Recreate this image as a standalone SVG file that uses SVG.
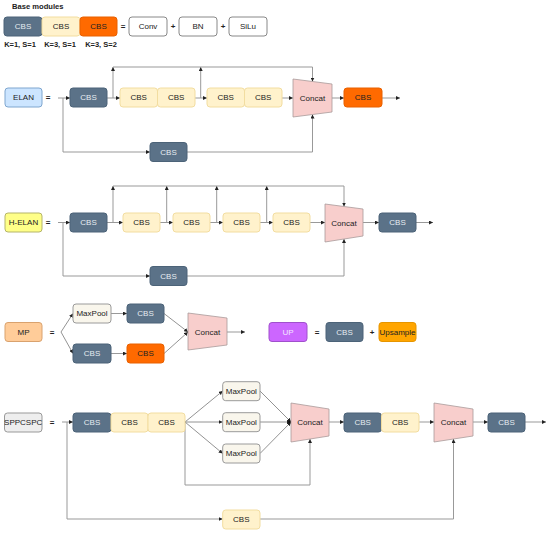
<svg xmlns="http://www.w3.org/2000/svg" width="550" height="533" viewBox="0 0 550 533">
<defs>
<marker id="ah" viewBox="0 0 6 6" refX="6" refY="3" markerWidth="4" markerHeight="4" markerUnits="userSpaceOnUse" orient="auto">
<path d="M0,0 L6,3 L0,6 Z" fill="#222"/>
</marker>
<style>
text{font-family:"Liberation Sans",Arial,sans-serif;font-size:8px;text-anchor:middle;dominant-baseline:central;fill:#222}
.b{font-weight:bold}
.k{font-weight:bold;font-size:7.5px}
.dk rect{fill:#5B7288;stroke:#4C6378}
.dk text{fill:#E6ECF1}
.cr rect{fill:#FFF2CC;stroke:#F2DDA0}
.or rect{fill:#FF6A00;stroke:#E86000}
.wh rect{fill:#fff;stroke:#888}
.mx rect{fill:#F9F6EC;stroke:#9a9a9a}
.cc polygon{fill:#F8CECC;stroke:#A89A9A;stroke-width:0.8}
.ln path{fill:none;stroke:#999;stroke-width:1;marker-end:url(#ah)}
.fw path{fill:none;stroke:#777;stroke-width:0.8;marker-end:url(#ah)}
</style>
</defs>
<rect width="550" height="533" fill="#fff"/>

<!-- Base modules -->
<text x="12" y="6.5" class="b" style="text-anchor:start;font-size:7.6px">Base modules</text>
<g id="base-cbs1" class="dk"><rect x="4" y="17" width="38" height="19" rx="3"/><text x="23" y="26.5">CBS</text></g>
<g id="base-cbs2" class="cr"><rect x="42" y="17" width="38" height="19" rx="3"/><text x="61" y="26.5">CBS</text></g>
<g id="base-cbs3" class="or"><rect x="80" y="17" width="37" height="19" rx="3"/><text x="98.5" y="26.5">CBS</text></g>
<text x="123" y="26.5" class="b">=</text>
<g id="conv" class="wh"><rect x="129" y="17" width="38" height="19" rx="3"/><text x="148" y="26.5">Conv</text></g>
<text x="173" y="26.5" class="b">+</text>
<g id="bn" class="wh"><rect x="179" y="17" width="38" height="19" rx="3"/><text x="198" y="26.5">BN</text></g>
<text x="223" y="26.5" class="b">+</text>
<g id="silu" class="wh"><rect x="229" y="17" width="38" height="19" rx="3"/><text x="248" y="26.5">SiLu</text></g>
<text x="20" y="44" class="k">K=1, S=1</text>
<text x="60" y="44" class="k">K=3, S=1</text>
<text x="101" y="44" class="k">K=3, S=2</text>

<!-- Connectors -->
<g id="connectors">
<g class="ln">
<path d="M58,98 H70"/>
<path d="M107,98 H120"/>
<path d="M195,98 H207"/>
<path d="M282,98 H293"/>
<path d="M332,98 H344"/>
<path d="M382,98 H400"/>
<path d="M113,98 V67"/>
<path d="M200.7,98 V67"/>
<path d="M113,67 H312.5 V81.5"/>
<path d="M63,98 V152 H150"/>
<path d="M187,152 H312.5 V114.5"/>
<path d="M58,222.5 H70"/>
<path d="M107,222.5 H123"/>
<path d="M160,222.5 H173"/>
<path d="M210,222.5 H223"/>
<path d="M260,222.5 H273"/>
<path d="M310,222.5 H325"/>
<path d="M363,222.5 H379"/>
<path d="M416,222.5 H433"/>
<path d="M113,222.5 V186"/>
<path d="M166.7,222.5 V186"/>
<path d="M216.7,222.5 V186"/>
<path d="M266.7,222.5 V186"/>
<path d="M113,186 H344 V206.5"/>
<path d="M63,222.5 V276 H150"/>
<path d="M187,276 H344 V239"/>
<path d="M111,313.5 H127"/>
<path d="M111,353.5 H127"/>
<path d="M227,332 H245"/>
<path d="M62,422 H73"/>
<path d="M329,422 H344"/>
<path d="M419,422 H434"/>
<path d="M473,422 H488"/>
<path d="M525,422 H546"/>
<path d="M185,422 V485 H310 V439"/>
<path d="M67,422 V519 H222.7"/>
<path d="M260,519 H453.5 V439"/>
</g>
<g class="fw">
<path d="M61,332 L73,313.5"/>
<path d="M61,332 L73,353.5"/>
<path d="M164,313.5 L188,332"/>
<path d="M164,353.5 L188,332"/>
<path d="M185,422 L222.7,391"/>
<path d="M185,422 L222.7,422"/>
<path d="M185,422 L222.7,453.5"/>
<path d="M260,391 L291,422"/>
<path d="M260,422 L291,422"/>
<path d="M260,453.5 L291,422"/>
</g>
<circle cx="290" cy="422" r="1.6" fill="#111"/>
</g>

<!-- ELAN -->
<g id="elan"><rect x="5" y="88" width="37" height="19" rx="3" fill="#CCE5FF" stroke="#7FA6CF"/><text x="23.5" y="97.5">ELAN</text></g>
<text x="48" y="97.5" class="b">=</text>
<g id="elan-cbs1" class="dk"><rect x="70" y="88" width="37" height="19" rx="3"/><text x="88.5" y="97.5">CBS</text></g>
<g id="elan-cbs2" class="cr"><rect x="120" y="88" width="37.5" height="19" rx="3"/><text x="138.7" y="97.5">CBS</text></g>
<g id="elan-cbs3" class="cr"><rect x="157.5" y="88" width="37.5" height="19" rx="3"/><text x="176.2" y="97.5">CBS</text></g>
<g id="elan-cbs4" class="cr"><rect x="207" y="88" width="37.5" height="19" rx="3"/><text x="225.7" y="97.5">CBS</text></g>
<g id="elan-cbs5" class="cr"><rect x="244.5" y="88" width="37.5" height="19" rx="3"/><text x="263.2" y="97.5">CBS</text></g>
<g id="elan-concat" class="cc"><polygon points="293,79 332,84 332,112 293,117"/><text x="312.5" y="98">Concat</text></g>
<g id="elan-cbs6" class="or"><rect x="344" y="88" width="38" height="19" rx="3"/><text x="363" y="97.5">CBS</text></g>
<g id="elan-cbs7" class="dk"><rect x="150" y="142.5" width="37" height="19" rx="3"/><text x="168.5" y="152">CBS</text></g>

<!-- H-ELAN -->
<g id="helan"><rect x="5" y="213" width="37" height="19" rx="3" fill="#FFFF88" stroke="#B5B56A"/><text x="23.5" y="222.5">H-ELAN</text></g>
<text x="48" y="222.5" class="b">=</text>
<g id="helan-cbs1" class="dk"><rect x="70" y="213" width="37" height="19" rx="3"/><text x="88.5" y="222.5">CBS</text></g>
<g id="helan-cbs2" class="cr"><rect x="123" y="213" width="37" height="19" rx="3"/><text x="141.5" y="222.5">CBS</text></g>
<g id="helan-cbs3" class="cr"><rect x="173" y="213" width="37" height="19" rx="3"/><text x="191.5" y="222.5">CBS</text></g>
<g id="helan-cbs4" class="cr"><rect x="223" y="213" width="37" height="19" rx="3"/><text x="241.5" y="222.5">CBS</text></g>
<g id="helan-cbs5" class="cr"><rect x="273" y="213" width="37" height="19" rx="3"/><text x="291.5" y="222.5">CBS</text></g>
<g id="helan-concat" class="cc"><polygon points="325,204 363,209 363,236 325,242"/><text x="344" y="223">Concat</text></g>
<g id="helan-cbs6" class="dk"><rect x="379" y="213" width="37" height="19" rx="3"/><text x="397.5" y="222.5">CBS</text></g>
<g id="helan-cbs7" class="dk"><rect x="150" y="266.5" width="37" height="19" rx="3"/><text x="168.5" y="276">CBS</text></g>

<!-- MP -->
<g id="mp"><rect x="5" y="322.5" width="37" height="19" rx="3" fill="#FFCC99" stroke="#D9A26E"/><text x="23.5" y="332">MP</text></g>
<text x="52" y="332" class="b">=</text>
<g id="mp-maxpool" class="mx"><rect x="73" y="304" width="38" height="19" rx="3"/><text x="92" y="313.5">MaxPool</text></g>
<g id="mp-cbs1" class="dk"><rect x="127" y="304" width="37" height="19" rx="3"/><text x="145.5" y="313.5">CBS</text></g>
<g id="mp-cbs2" class="dk"><rect x="73" y="344" width="38" height="19" rx="3"/><text x="92" y="353.5">CBS</text></g>
<g id="mp-cbs3" class="or"><rect x="127" y="344" width="37" height="19" rx="3"/><text x="145.5" y="353.5">CBS</text></g>
<g id="mp-concat" class="cc"><polygon points="188,313 227,318 227,345 188,350"/><text x="207.5" y="332">Concat</text></g>

<!-- UP -->
<g id="up"><rect x="269" y="322.5" width="38" height="19" rx="3" fill="#CC66FF" stroke="#A050CC"/><text x="288" y="332" style="fill:#F3E6FF">UP</text></g>
<text x="317" y="332" class="b">=</text>
<g id="up-cbs" class="dk"><rect x="326" y="322.5" width="37" height="19" rx="3"/><text x="344.5" y="332">CBS</text></g>
<text x="372" y="332" class="b">+</text>
<g id="upsample"><rect x="379" y="322.5" width="37" height="19" rx="3" fill="#FFA500" stroke="#E69500"/><text x="397.5" y="332">Upsample</text></g>

<!-- SPPCSPC -->
<g id="sppcspc"><rect x="4.5" y="413" width="37.5" height="19" rx="3" fill="#EEEEEE" stroke="#999"/><text x="23.2" y="422.5">SPPCSPC</text></g>
<text x="52" y="422.5" class="b">=</text>
<g id="spp-cbs1" class="dk"><rect x="73" y="413" width="38" height="19" rx="3"/><text x="92" y="422.5">CBS</text></g>
<g id="spp-cbs2" class="cr"><rect x="111" y="413" width="37" height="19" rx="3"/><text x="129.5" y="422.5">CBS</text></g>
<g id="spp-cbs3" class="cr"><rect x="148" y="413" width="37" height="19" rx="3"/><text x="166.5" y="422.5">CBS</text></g>
<g id="spp-maxpool1" class="mx"><rect x="222.7" y="381.7" width="37.3" height="19" rx="3"/><text x="241.3" y="391.2">MaxPool</text></g>
<g id="spp-maxpool2" class="mx"><rect x="222.7" y="412.7" width="37.3" height="19" rx="3"/><text x="241.3" y="422.2">MaxPool</text></g>
<g id="spp-maxpool3" class="mx"><rect x="222.7" y="444" width="37.3" height="19" rx="3"/><text x="241.3" y="453.5">MaxPool</text></g>
<g id="spp-concat1" class="cc"><polygon points="291,403 329,409 329,436 291,442"/><text x="310" y="422.5">Concat</text></g>
<g id="spp-cbs4" class="dk"><rect x="344" y="413" width="37.5" height="19" rx="3"/><text x="362.7" y="422.5">CBS</text></g>
<g id="spp-cbs5" class="cr"><rect x="381.5" y="413" width="37.5" height="19" rx="3"/><text x="400.2" y="422.5">CBS</text></g>
<g id="spp-concat2" class="cc"><polygon points="434,403 473,409 473,436 434,442"/><text x="453.5" y="422.5">Concat</text></g>
<g id="spp-cbs6" class="dk"><rect x="488" y="413" width="37" height="19" rx="3"/><text x="506.5" y="422.5">CBS</text></g>
<g id="spp-cbs7" class="cr"><rect x="222.7" y="510" width="37.3" height="19" rx="3"/><text x="241.3" y="519.5">CBS</text></g>
</svg>
